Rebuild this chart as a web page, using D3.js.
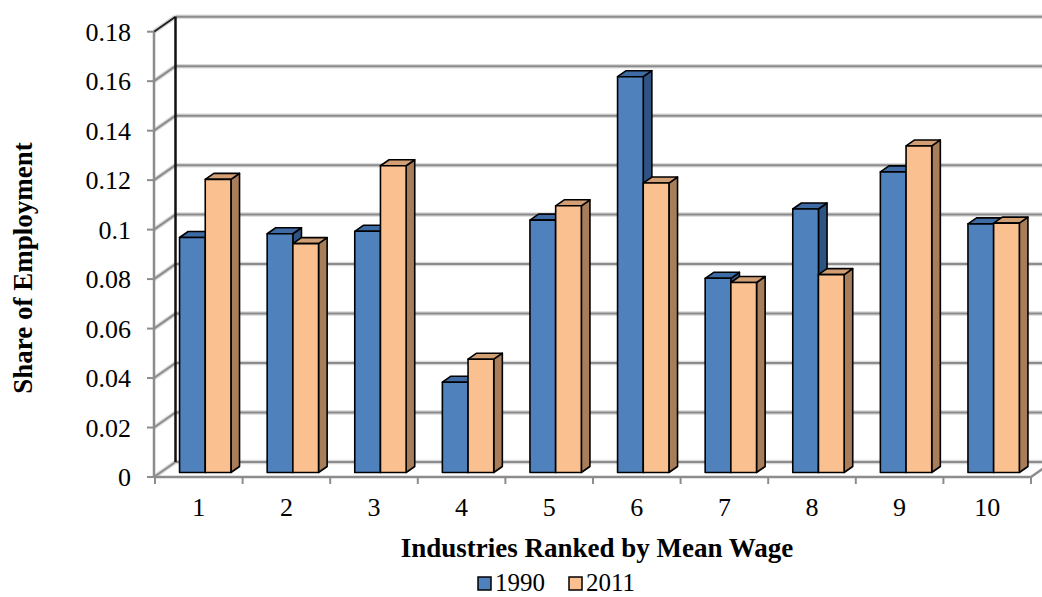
<!DOCTYPE html>
<html>
<head>
<meta charset="utf-8">
<script src="https://cdn.jsdelivr.net/npm/d3@7"></script>
<style>
  body { margin: 0; background: #fff; }
  text { font-family: 'Liberation Serif', 'Times New Roman', serif; fill: #000; }
</style>
</head>
<body>
<div id="chart"></div>
<script>
;(function() {
  // values
  var categories = ['1', '2', '3', '4', '5', '6', '7', '8', '9', '10']
  var seriesNames = ['1990', '2011']
  var values1990 = [0.095, 0.0965, 0.0975, 0.0365, 0.102, 0.160, 0.0785, 0.1065, 0.1215, 0.1005]
  var values2011 = [0.1185, 0.0925, 0.124, 0.0458, 0.1078, 0.117, 0.0768, 0.080, 0.132, 0.1008]
  var yTicks = [0, 0.02, 0.04, 0.06, 0.08, 0.1, 0.12, 0.14, 0.16, 0.18]
  var yTickLabels = ['0', '0.02', '0.04', '0.06', '0.08', '0.1', '0.12', '0.14', '0.16', '0.18']

  var width = 1042
  var height = 597

  // oblique depth offset (front plane -> back wall)
  var DX = 21.5
  var DY = 15
  var zFront = 0.3
  var zBack = 0.7

  var svg = d3
    .select('#chart')
    .append('svg')
    .attr('width', width)
    .attr('height', height)

  var yScale = d3
    .scaleLinear()
    .domain([0, 0.18])
    .range([477, 31.7])

  var xScale = d3
    .scaleBand()
    .domain(categories)
    .range([155, 1031])

  var seriesScale = d3
    .scaleBand()
    .domain(seriesNames)
    .range([0, xScale.bandwidth()])
    .paddingOuter(0.705)

  var faces = {
    '1990': { front: '#4f81bd', top: '#3e6ba3', side: '#2f5382' },
    '2011': { front: '#fac08f', top: '#d29f74', side: '#a77d5a' }
  }

  function P(x, y, z) {
    return [x + z * DX, y - z * DY]
  }

  var grid = svg.append('g')

  // back wall gridlines and side wall lines (with soft halo)
  yTicks.forEach(function(t) {
    var yf = yScale(t)
    var b0 = P(154, yf, 1)
    ;[{ c: '#d9d9d9', w: 4.5 }, { c: '#8c8c8c', w: 2 }].forEach(function(s) {
      grid
        .append('line')
        .attr('x1', b0[0])
        .attr('y1', b0[1])
        .attr('x2', 1031 + DX)
        .attr('y2', b0[1])
        .attr('stroke', s.c)
        .attr('stroke-width', s.w)
      grid
        .append('line')
        .attr('x1', 154)
        .attr('y1', yf)
        .attr('x2', b0[0])
        .attr('y2', b0[1])
        .attr('stroke', t === 0.18 && s.w === 2 ? '#222' : s.c)
        .attr('stroke-width', s.w)
    })
    // tick marks on the front axis
    grid
      .append('line')
      .attr('x1', 147)
      .attr('y1', yf)
      .attr('x2', 154)
      .attr('y2', yf)
      .attr('stroke', '#8c8c8c')
      .attr('stroke-width', 2)
  })

  // front vertical axis line
  grid
    .append('line')
    .attr('x1', 154)
    .attr('y1', yScale(0.18))
    .attr('x2', 154)
    .attr('y2', yScale(0))
    .attr('stroke', '#8c8c8c')
    .attr('stroke-width', 2.5)

  // back wall left edge
  var bt = P(154, yScale(0.18), 1)
  var bb = P(154, yScale(0), 1)
  grid
    .append('line')
    .attr('x1', bt[0])
    .attr('y1', bt[1])
    .attr('x2', bb[0])
    .attr('y2', bb[1])
    .attr('stroke', '#111')
    .attr('stroke-width', 2.5)

  // floor front edge + right edge
  var fr = P(1031, yScale(0), 1)
  grid
    .append('path')
    .attr('d', 'M154,' + yScale(0) + 'L1031,' + yScale(0) + 'L' + fr[0] + ',' + fr[1])
    .attr('fill', 'none')
    .attr('stroke', '#8c8c8c')
    .attr('stroke-width', 2.5)

  // category boundary ticks
  var bounds = categories.map(function(c) { return xScale(c) }).concat([xScale.range()[1]])
  grid
    .selectAll('.xtick')
    .data(bounds)
    .enter()
    .append('line')
    .attr('x1', d => d)
    .attr('x2', d => d)
    .attr('y1', yScale(0))
    .attr('y2', yScale(0) + 7)
    .attr('stroke', '#8c8c8c')
    .attr('stroke-width', 2)

  // bars
  var rows = []
  categories.forEach(function(c, i) {
    rows.push({ cat: c, series: '1990', value: values1990[i] })
    rows.push({ cat: c, series: '2011', value: values2011[i] })
  })

  function pts(list) {
    return list.map(function(p) { return p.join(',') }).join(' ')
  }

  var bars = svg
    .selectAll('.bar')
    .data(rows)
    .enter()
    .append('g')
    .attr('class', 'bar')

  bars.each(function(d) {
    var g = d3.select(this)
    var x0 = xScale(d.cat) + seriesScale(d.series)
    var x1 = x0 + seriesScale.bandwidth()
    var yt = yScale(d.value)
    var y0 = yScale(0)
    var col = faces[d.series]
    var style = function(sel, fill) {
      sel
        .attr('fill', fill)
        .attr('stroke', '#000')
        .attr('stroke-width', 1.6)
        .attr('stroke-linejoin', 'round')
    }
    g.append('polygon')
      .attr('points', pts([P(x1, yt, zFront), P(x1, yt, zBack), P(x1, y0, zBack), P(x1, y0, zFront)]))
      .call(style, col.side)
    g.append('polygon')
      .attr('points', pts([P(x0, yt, zFront), P(x0, yt, zBack), P(x1, yt, zBack), P(x1, yt, zFront)]))
      .call(style, col.top)
    g.append('polygon')
      .attr('points', pts([P(x0, yt, zFront), P(x1, yt, zFront), P(x1, y0, zFront), P(x0, y0, zFront)]))
      .call(style, col.front)
  })

  // y tick labels
  svg
    .selectAll('.ylabel')
    .data(yTicks)
    .enter()
    .append('text')
    .attr('x', 131)
    .attr('y', d => yScale(d))
    .attr('dy', '0.35em')
    .attr('text-anchor', 'end')
    .style('font-size', '26px')
    .text((d, i) => yTickLabels[i])

  // x tick labels
  svg
    .selectAll('.xlabel')
    .data(categories)
    .enter()
    .append('text')
    .attr('x', d => xScale(d) + xScale.bandwidth() / 2)
    .attr('y', 507)
    .attr('dy', '0.35em')
    .attr('text-anchor', 'middle')
    .style('font-size', '26px')
    .text(d => d)

  // axis titles
  svg
    .append('text')
    .attr('x', 597)
    .attr('y', 548)
    .attr('dy', '0.35em')
    .attr('text-anchor', 'middle')
    .style('font-size', '27px')
    .style('font-weight', 'bold')
    .text('Industries Ranked by Mean Wage')

  svg
    .append('text')
    .attr('transform', 'translate(23,268) rotate(-90)')
    .attr('dy', '0.35em')
    .attr('text-anchor', 'middle')
    .style('font-size', '27px')
    .style('font-weight', 'bold')
    .text('Share of Employment')

  // legend
  var legendX = [478, 569]
  var legend = svg
    .selectAll('.legend')
    .data(seriesNames)
    .enter()
    .append('g')
    .attr('transform', (d, i) => 'translate(' + legendX[i] + ',577)')

  legend
    .append('rect')
    .attr('width', 13)
    .attr('height', 13)
    .attr('fill', d => faces[d].front)
    .attr('stroke', '#000')
    .attr('stroke-width', 1.5)

  legend
    .append('text')
    .attr('x', 17)
    .attr('y', 14)
    .style('font-size', '25px')
    .text(d => d)
})()
</script>
</body>
</html>
